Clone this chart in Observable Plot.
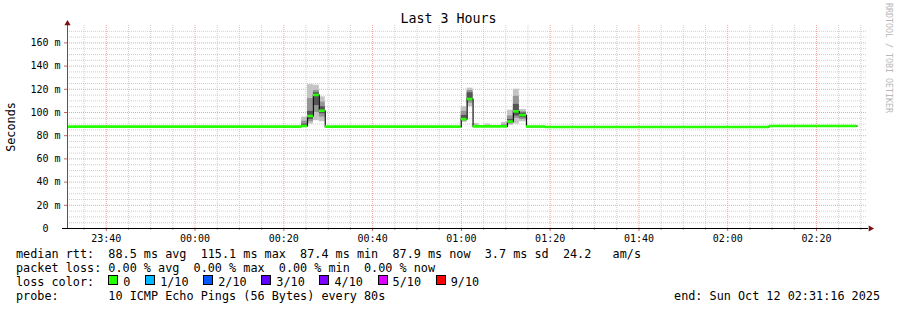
<!DOCTYPE html>
<html><head><meta charset="utf-8">
<script src="https://cdn.jsdelivr.net/npm/d3@7"></script>
<script src="https://cdn.jsdelivr.net/npm/@observablehq/plot@0.6"></script>
<style>
body{margin:0;background:#fff;}
#wrap{position:relative;width:897px;height:310px;overflow:hidden;font-family:"DejaVu Sans Mono",monospace;color:#000;background:#fff;}
#wrap svg{position:absolute;left:0;top:0;}
.ov{position:absolute;white-space:pre;}
.box{display:inline-block;width:8px;height:8px;border:1px solid #000;vertical-align:1px;margin-right:5px;}
.item{margin-right:14.7px;}
</style></head><body><div id="wrap"></div>
<script>
// ---- data ----
const startTime = "23:31:16";
const endTime = "02:31:16";
const xTickLabels = ["23:40","00:00","00:20","00:40","01:00","01:20","01:40","02:00","02:20"];
const yTicks = [0,20,40,60,80,100,120,140,160];

const medianBreaks = ["23:31:16","00:24:00","00:25:20","00:26:40","00:28:00","00:29:20","00:59:58","01:01:18","01:02:38","01:10:23","01:11:43","01:13:03","01:14:40","01:19:00","02:09:20","02:29:10"];
const medianValues = [87.8, 88.4, 97, 115.1, 101.5, 87.8, 94.3, 111.6, 88.0, 92.2, 101, 97.8, 87.9, 87.5, 88.3];

const smokeFrom = ["00:24:00","00:25:20","00:26:40","00:28:00","00:59:58","01:01:18","01:02:38","01:05:18","01:09:03","01:10:23","01:11:43","01:13:03"];
const smokeTo   = ["00:25:20","00:26:40","00:28:00","00:29:20","01:01:18","01:02:38","01:03:58","01:06:38","01:10:23","01:11:43","01:13:03","01:14:40"];
const outerLo = [87.8, 90, 93, 92, 91.5, 105, 88, 88, 88, 89, 90, 92];
const outerHi = [96, 124, 123.5, 113.5, 105, 121, 90.5, 90, 91.5, 102, 120, 102.5];
const midLo   = [87.8, 92, 100, 96, 92.5, 108, 88, 88, 88, 90, 95, 94];
const midHi   = [92.5, 112, 119, 109, 101, 119, 89, 88.5, 89.5, 97, 114, 100.5];
const coreLo  = [87.8, 94, 106, 99, 93.5, 110, 88, 88, 88, 91, 97, 95.5];
const coreHi  = [90, 101, 117, 105, 97.5, 117, 88, 88, 88, 94, 107, 99.5];

const medianStats = ["88.5 ms avg","115.1 ms max","87.4 ms min","87.9 ms now","3.7 ms sd","24.2   am/s"];
const lossStats = ["0.00 % avg","0.00 % max","0.00 % min","0.00 % now"];
const lossLabels = ["0","1/10","2/10","3/10","4/10","5/10","9/10"];
const lossColors = ["#26ff00","#00b8ff","#0059ff","#5e00ff","#7e00ff","#dd00ff","#ff0000"];
const probeText = "10 ICMP Echo Pings (56 Bytes) every 80s";
const endText = "end: Sun Oct 12 02:31:16 2025";
const titleText = "Last 3 Hours";
const yLabel = "Seconds";
const watermark = "RRDTOOL / TOBI OETIKER";

// ---- build ----
const T = s => new Date((s < "12" ? "2025-10-12T" : "2025-10-11T") + (s.length === 5 ? s + ":00" : s));
const start = T(startTime), end = T(endTime);
const majorDates = xTickLabels.map(T);
const minorDates = d3.timeMinute.every(5).range(start, end).filter(d => d.getMinutes() % 20 !== 0);
const minorY = d3.range(5, 175, 5).filter(v => v % 20 !== 0);
const majorY = yTicks.filter(v => v > 0);

const medianPts = medianBreaks.map((s, i) => ({t: T(s), m: medianValues[Math.min(i, medianValues.length - 1)]}));
const segs = medianValues.map((m, i) => ({t0: T(medianBreaks[i]), t1: T(medianBreaks[i + 1]), m}));
const smoke = smokeFrom.map((s, i) => ({t0: T(s), t1: T(smokeTo[i]),
  oL: outerLo[i], oH: outerHi[i], mL: midLo[i], mH: midHi[i], cL: coreLo[i], cH: coreHi[i]}));

const chart = Plot.plot({
  width: 897, height: 310,
  marginLeft: 67, marginRight: 31, marginTop: 25, marginBottom: 82,
  x: {type: "time", domain: [start, end]},
  y: {domain: [0, 175]},
  style: {fontFamily: "DejaVu Sans Mono", fontSize: "10px", background: "transparent", color: "#000"},
  marks: [
    Plot.ruleY(minorY, {stroke: "#cfcfcf", strokeDasharray: "1,1"}),
    Plot.ruleX(minorDates, {stroke: "#cfcfcf", strokeDasharray: "1,1"}),
    Plot.ruleY(majorY, {stroke: "#f2a4a4", strokeDasharray: "1,1"}),
    Plot.ruleX(majorDates, {stroke: "#f2a4a4", strokeDasharray: "1,1"}),
    Plot.rect(smoke, {x1: "t0", x2: "t1", y1: "oL", y2: "oH", fill: "#c4c4c4"}),
    Plot.rect(smoke, {x1: "t0", x2: "t1", y1: "mL", y2: "mH", fill: "#959595"}),
    Plot.rect(smoke, {x1: "t0", x2: "t1", y1: "cL", y2: "cH", fill: "#555555"}),
    Plot.line(medianPts, {x: "t", y: "m", curve: "step-after", stroke: "#111", strokeWidth: 1.2}),
    Plot.ruleY(segs, {x1: "t0", x2: "t1", y: "m", stroke: lossColors[0], strokeWidth: 2.6}),
    Plot.axisX({ticks: minorDates, tickSize: 2, tickFormat: () => "", stroke: "#aaa", label: null}),
    Plot.axisX({ticks: majorDates, tickSize: 3, tickPadding: 3, tickFormat: d3.timeFormat("%H:%M"), stroke: "#d06060", fill: "#000", label: null}),
    Plot.axisY({ticks: yTicks, tickSize: 3, tickPadding: 4, tickFormat: d => d === 0 ? "0\u00a0\u00a0" : `${d} m`, stroke: "#d06060", fill: "#000", label: null}),
    Plot.ruleY([0], {stroke: "#000", insetLeft: -5, insetRight: -2}),
    Plot.ruleX([start], {stroke: "#555", insetTop: -1}),
    Plot.dot([start], {x: d => d, y: () => 175, symbol: "triangle", r: 2.3, fill: "#7a1010", stroke: null, dy: -2}),
    Plot.dot([end], {x: d => d, y: () => 0, symbol: "triangle", r: 2.3, fill: "#7a1010", stroke: null, dx: 4, rotate: 90})
  ]
});

const wrap = document.getElementById("wrap");
wrap.appendChild(chart);

function ov(text, css) {
  const d = document.createElement("div");
  d.className = "ov";
  d.textContent = text;
  Object.assign(d.style, css);
  wrap.appendChild(d);
  return d;
}
ov(titleText, {left: "0px", top: "11px", width: "897px", textAlign: "center", fontSize: "13.3px", lineHeight: "16px"});
ov(yLabel, {left: "11px", top: "127px", fontSize: "11.8px", lineHeight: "14px", transform: "translate(-50%,-50%) rotate(-90deg)"});
ov(watermark, {left: "884px", top: "3px", fontSize: "8.3px", lineHeight: "9px", color: "#b8b8b8", writingMode: "vertical-rl"});

const stats = document.createElement("div");
stats.className = "ov";
Object.assign(stats.style, {left: "16px", top: "247px", fontSize: "11.8px", lineHeight: "14px"});
const l1 = document.createElement("div"); l1.textContent = "median rtt:  " + medianStats.join("  ");
const l2 = document.createElement("div"); l2.textContent = "packet loss: " + lossStats.join("  ");
const l3 = document.createElement("div"); l3.textContent = "loss color:  ";
lossLabels.forEach((lab, i) => {
  const it = document.createElement("span"); it.className = "item";
  const b = document.createElement("span"); b.className = "box"; b.style.background = lossColors[i];
  it.appendChild(b); it.appendChild(document.createTextNode(lab));
  l3.appendChild(it);
});
const l4 = document.createElement("div"); l4.textContent = "probe:       " + probeText;
[l1, l2, l3, l4].forEach(l => stats.appendChild(l));
wrap.appendChild(stats);
ov(endText, {right: "17px", top: "289px", fontSize: "11.8px", lineHeight: "14px"});
</script></body></html>
